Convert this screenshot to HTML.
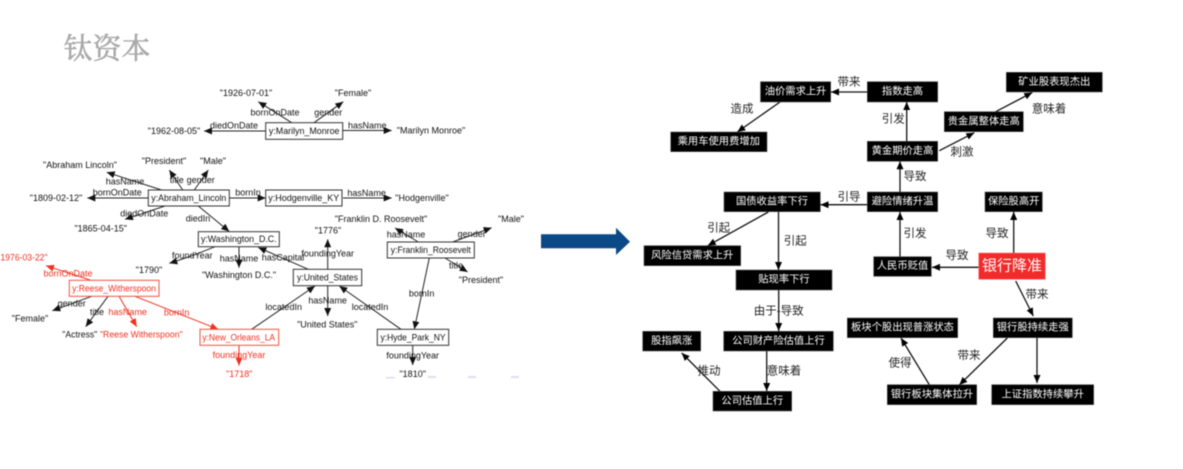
<!DOCTYPE html>
<html lang="zh">
<head>
<meta charset="utf-8">
<title>Diagram</title>
<style>
html,body{margin:0;padding:0;background:#fff;width:1183px;height:469px;overflow:hidden}
svg{display:block;filter:blur(0.45px)}
text{text-anchor:middle;dominant-baseline:central}
.l text,text.l{font-family:"Liberation Sans",sans-serif;font-size:9px;fill:#111}
.r text{fill:#f0301f}
.n text{font-size:9.2px}
.kn rect{fill:#fff;stroke:#333;stroke-width:1}
.rn rect{fill:#fff;stroke:#f0503f;stroke-width:1}
.kl line,.kl path{stroke:#222;stroke-width:1;fill:none;marker-end:url(#ak)}
.rl line{stroke:#f0301f;stroke-width:1;marker-end:url(#ar)}
.bl line{stroke:#111;stroke-width:1.3;marker-end:url(#ab)}
.b rect{fill:#000;stroke:#555;stroke-width:.6}
.b text{font-family:"Liberation Sans","Noto Sans CJK SC",sans-serif;font-size:10.3px;fill:#fff}
.e text{font-family:"Liberation Sans","Noto Sans CJK SC",sans-serif;font-size:11.5px;fill:#222}
</style>
</head>
<body>
<svg width="1183" height="469" viewBox="0 0 1183 469" xmlns="http://www.w3.org/2000/svg">
<defs>
<marker id="ak" viewBox="0 0 8 7" refX="8" refY="3.5" markerWidth="8" markerHeight="7" markerUnits="userSpaceOnUse" orient="auto"><path d="M0 0L8 3.5L0 7Z" fill="#111"/></marker>
<marker id="ar" viewBox="0 0 8 7" refX="8" refY="3.5" markerWidth="8" markerHeight="7" markerUnits="userSpaceOnUse" orient="auto"><path d="M0 0L8 3.5L0 7Z" fill="#f0301f"/></marker>
<marker id="ab" viewBox="0 0 8 7" refX="8" refY="3.5" markerWidth="8" markerHeight="7" markerUnits="userSpaceOnUse" orient="auto"><path d="M0 0L8 3.5L0 7Z" fill="#000"/></marker>
</defs>

<text x="107" y="47" style="font-family:'Noto Serif CJK SC','Noto Sans CJK SC',serif;font-size:29px;fill:#a8a8a8;stroke:#a8a8a8;stroke-width:.5">钛资本</text>

<!-- left graph edges -->
<g class="kl">
<line x1="291.7" y1="122.7" x2="258.3" y2="101.7"/>
<line x1="314" y1="122.7" x2="343.3" y2="101.7"/>
<line x1="265.7" y1="131" x2="204" y2="131"/>
<line x1="343" y1="130.5" x2="391.7" y2="130.5"/>
<line x1="161.7" y1="190" x2="106.7" y2="172.3"/>
<line x1="182.7" y1="190" x2="169.3" y2="170"/>
<line x1="194.3" y1="190" x2="208.3" y2="170"/>
<line x1="148" y1="198" x2="87.3" y2="198"/>
<line x1="229" y1="198" x2="265.7" y2="198"/>
<line x1="343" y1="198" x2="391.7" y2="198"/>
<line x1="165" y1="206" x2="125" y2="219.3"/>
<line x1="198.3" y1="206" x2="229.3" y2="231.5"/>
<path d="M215 246.7Q190 257 169.3 263.3"/>
<line x1="239" y1="246.7" x2="239" y2="267.7"/>
<line x1="308.3" y1="269.3" x2="258.3" y2="247.5"/>
<line x1="327.7" y1="269.3" x2="327.7" y2="239.3"/>
<line x1="327.7" y1="286" x2="327.7" y2="316"/>
<line x1="251.7" y1="329.3" x2="315" y2="286"/>
<line x1="401" y1="329.3" x2="339.3" y2="286"/>
<line x1="418.3" y1="242" x2="395" y2="228"/>
<line x1="452.7" y1="242" x2="491.7" y2="227.7"/>
<line x1="445" y1="258" x2="467.7" y2="272"/>
<line x1="429.3" y1="258" x2="414.3" y2="329.3"/>
<line x1="412.7" y1="345.3" x2="412.7" y2="365"/>
<line x1="91.7" y1="296.3" x2="52.3" y2="310.7"/>
<line x1="108" y1="296.3" x2="85.7" y2="326.7"/>
</g>
<g class="rl">
<line x1="90" y1="280" x2="46" y2="265.7"/>
<line x1="119" y1="296.3" x2="136.7" y2="326.7"/>
<line x1="135" y1="296.3" x2="218.3" y2="329.3"/>
<line x1="239" y1="345.3" x2="239" y2="365.7"/>
</g>

<!-- left graph nodes -->
<g class="kn">
<rect x="265.7" y="122.7" width="77" height="16.6"/>
<rect x="265.7" y="190" width="76.3" height="16"/>
<rect x="148.3" y="190" width="81" height="16"/>
<rect x="198.3" y="231.7" width="81" height="15"/>
<rect x="293.3" y="269.3" width="68.4" height="16.4"/>
<rect x="387.3" y="242" width="87" height="16"/>
<rect x="377.3" y="329.3" width="71.4" height="16"/>
</g>
<g class="rn">
<rect x="69.3" y="280.3" width="89.7" height="16"/>
<rect x="200" y="329.3" width="78.7" height="16"/>
</g>
<g class="l n">
<text x="304.2" y="131" textLength="70.6" lengthAdjust="spacingAndGlyphs">y:Marilyn_Monroe</text>
<text x="303.8" y="198" textLength="71" lengthAdjust="spacingAndGlyphs">y:Hodgenville_KY</text>
<text x="188.8" y="198" textLength="75" lengthAdjust="spacingAndGlyphs">y:Abraham_Lincoln</text>
<text x="238.8" y="239.2" textLength="75.7" lengthAdjust="spacingAndGlyphs">y:Washington_D.C.</text>
<text x="327.5" y="277.5" textLength="61" lengthAdjust="spacingAndGlyphs">y:United_States</text>
<text x="430.8" y="250" textLength="80" lengthAdjust="spacingAndGlyphs">y:Franklin_Roosevelt</text>
<text x="413" y="337.3" textLength="65" lengthAdjust="spacingAndGlyphs">y:Hyde_Park_NY</text>
</g>
<g class="l n r">
<text x="114" y="288.3" textLength="83.7" lengthAdjust="spacingAndGlyphs">y:Reese_Witherspoon</text>
<text x="238.7" y="337.3" textLength="72.7" lengthAdjust="spacingAndGlyphs">y:New_Orleans_LA</text>
</g>

<!-- left graph literals + labels -->
<g class="l">
<text x="246" y="93">"1926-07-01"</text>
<text x="353" y="93">"Female"</text>
<text x="174" y="131">"1962-08-05"</text>
<text x="431" y="130.5">"Marilyn Monroe"</text>
<text x="80" y="165">"Abraham Lincoln"</text>
<text x="164" y="161">"President"</text>
<text x="213" y="161">"Male"</text>
<text x="56" y="198">"1809-02-12"</text>
<text x="422" y="198">"Hodgenville"</text>
<text x="100.7" y="228.5">"1865-04-15"</text>
<text x="381" y="219">"Franklin D. Roosevelt"</text>
<text x="511" y="219">"Male"</text>
<text x="328" y="230.5">"1776"</text>
<text x="149" y="270">"1790"</text>
<text x="239" y="275">"Washington D.C."</text>
<text x="481" y="280">"President"</text>
<text x="327.3" y="324.3">"United States"</text>
<text x="412.7" y="374">"1810"</text>
<text x="30" y="318.3">"Female"</text>
<text x="79.8" y="334.7" textLength="35" lengthAdjust="spacingAndGlyphs">"Actress"</text>
<text x="275" y="112.7">bornOnDate</text>
<text x="328.3" y="112.3">gender</text>
<text x="234" y="125.3">diedOnDate</text>
<text x="367.3" y="125.7">hasName</text>
<text x="125" y="181.3">hasName</text>
<text x="176.7" y="180">title</text>
<text x="200.7" y="180">gender</text>
<text x="117.3" y="192.3">bornOnDate</text>
<text x="248" y="192.3">bornIn</text>
<text x="366.7" y="193">hasName</text>
<text x="144.3" y="213.7">diedOnDate</text>
<text x="198" y="218.3">diedIn</text>
<text x="192.3" y="255.7">foundYear</text>
<text x="239" y="258.3">hasName</text>
<text x="283" y="257.7">hasCapital</text>
<text x="327.7" y="253.3">foundingYear</text>
<text x="327.7" y="300.7">hasName</text>
<text x="283.7" y="307">locatedIn</text>
<text x="370" y="307">locatedIn</text>
<text x="406" y="234.7">hasName</text>
<text x="471.7" y="234">gender</text>
<text x="456" y="265.7">title</text>
<text x="421.7" y="293.3">bornIn</text>
<text x="412.7" y="355.3">foundingYear</text>
<text x="71.7" y="303.3">gender</text>
<text x="97" y="312">title</text>
</g>
<g class="l r">
<text x="24" y="257.7" textLength="47" lengthAdjust="spacingAndGlyphs">1976-03-22"</text>
<text x="141.3" y="334.3" textLength="82.7" lengthAdjust="spacingAndGlyphs">"Reese Witherspoon"</text>
<text x="239.3" y="374">"1718"</text>
<text x="68" y="273.3">bornOnDate</text>
<text x="127.7" y="312">hasName</text>
<text x="176.7" y="312.7">bornIn</text>
<text x="239" y="355">foundingYear</text>
</g>
<g fill="#dcdcf0">
<rect x="386" y="377" width="9" height="1.5"/><rect x="428" y="376" width="8" height="2"/>
<rect x="468" y="376" width="8" height="2"/><rect x="511" y="376" width="8" height="2"/>
</g>

<!-- blue arrow -->
<path d="M541 234.3H616V227.7L630 241.7L616 255V248.3H541Z" fill="#0b4a86"/>

<!-- right graph edges -->
<g class="bl">
<line x1="867.3" y1="92" x2="831" y2="92"/>
<line x1="780" y1="102" x2="737.3" y2="132"/>
<line x1="867.3" y1="204.7" x2="820.5" y2="204.7"/>
<line x1="768.3" y1="212" x2="707.7" y2="245.7"/>
<line x1="778.5" y1="212" x2="778.5" y2="270"/>
<line x1="778.7" y1="290" x2="778.7" y2="331"/>
<line x1="766.7" y1="351" x2="766.7" y2="391"/>
<line x1="720" y1="391.3" x2="681.7" y2="353"/>
<line x1="906.7" y1="141.3" x2="906.7" y2="102"/>
<line x1="900" y1="192" x2="900" y2="161.3"/>
<line x1="900" y1="256.7" x2="900" y2="212"/>
<line x1="939.3" y1="150.7" x2="974.3" y2="132.7"/>
<line x1="995.7" y1="111.7" x2="1032.3" y2="92.5"/>
<line x1="1013.7" y1="253" x2="1013.7" y2="212"/>
<line x1="978.7" y1="267.3" x2="932" y2="267.3"/>
<line x1="1015.7" y1="281" x2="1033.3" y2="316"/>
<line x1="1037" y1="338" x2="1037" y2="383"/>
<line x1="1007.3" y1="338" x2="959.3" y2="385"/>
<line x1="929.3" y1="384.7" x2="901" y2="338"/>
</g>

<!-- right graph boxes -->
<g class="b">
<rect x="760.5" y="81.7" width="70.2" height="20.3"/><text x="795.6" y="92">油价需求上升</text>
<rect x="670.7" y="132" width="96.3" height="19.7"/><text x="718.8" y="142">乘用车使用费增加</text>
<rect x="724" y="192" width="96.3" height="19.7"/><text x="772" y="202">国债收益率下行</text>
<rect x="644" y="245.7" width="96.7" height="20"/><text x="692.3" y="256">风险信贷需求上升</text>
<rect x="736" y="270" width="96" height="20"/><text x="784" y="280">贴现率下行</text>
<rect x="723.7" y="331.3" width="109.6" height="19.7"/><text x="778.5" y="341.3">公司财产险估值上行</text>
<rect x="642.7" y="331.3" width="58" height="19.7"/><text x="671.7" y="341.3">股指飙涨</text>
<rect x="713" y="391.3" width="78.7" height="19.7"/><text x="752.3" y="401.3">公司估值上行</text>
<rect x="867.3" y="81.7" width="70.4" height="20.3"/><text x="902.5" y="92">指数走高</text>
<rect x="1006.3" y="72.3" width="96" height="19.7"/><text x="1054.3" y="82.3">矿业股表现杰出</text>
<rect x="944.3" y="111.7" width="79" height="20"/><text x="983.8" y="122">贵金属整体走高</text>
<rect x="867.3" y="141.3" width="70.4" height="20"/><text x="902.5" y="151.5">黄金期价走高</text>
<rect x="867.3" y="192" width="70.4" height="19.7"/><text x="902.5" y="202">避险情绪升温</text>
<rect x="985" y="192" width="57.3" height="19.7"/><text x="1013.7" y="202">保险股高开</text>
<rect x="873.7" y="256.7" width="57.6" height="19.6"/><text x="902.5" y="266.7">人民币贬值</text>
<rect x="847.3" y="318" width="110.4" height="19.7"/><text x="902.5" y="328">板块个股出现普涨状态</text>
<rect x="993.3" y="318" width="79" height="19.7"/><text x="1032.8" y="328">银行股持续走强</text>
<rect x="887.3" y="384.7" width="89.4" height="20"/><text x="932" y="395">银行板块集体拉升</text>
<rect x="991.7" y="384.7" width="102" height="20"/><text x="1042.7" y="395">上证指数持续攀升</text>
<rect x="978.7" y="253" width="66.6" height="26.3" style="fill:#f22a2a;stroke:#f77"/><text x="1012" y="266.2" style="font-size:15px">银行降准</text>
</g>

<!-- right graph labels -->
<g class="e">
<text x="849" y="82.7">带来</text>
<text x="742" y="109.7">造成</text>
<text x="849" y="197.3">引导</text>
<text x="718.7" y="228.3">引起</text>
<text x="795.3" y="241.7">引起</text>
<text x="778.7" y="311.7">由于-导致</text>
<text x="784" y="371.7">意味着</text>
<text x="709" y="371.7">推动</text>
<text x="893.3" y="119.3">引发</text>
<text x="1049" y="109.7">意味着</text>
<text x="962" y="152.3">刺激</text>
<text x="915" y="177">导致</text>
<text x="915" y="234">引发</text>
<text x="997" y="234">导致</text>
<text x="957" y="256">导致</text>
<text x="1037" y="295">带来</text>
<text x="969" y="356">带来</text>
<text x="900" y="363.7">使得</text>
</g>
</svg>
</body>
</html>
